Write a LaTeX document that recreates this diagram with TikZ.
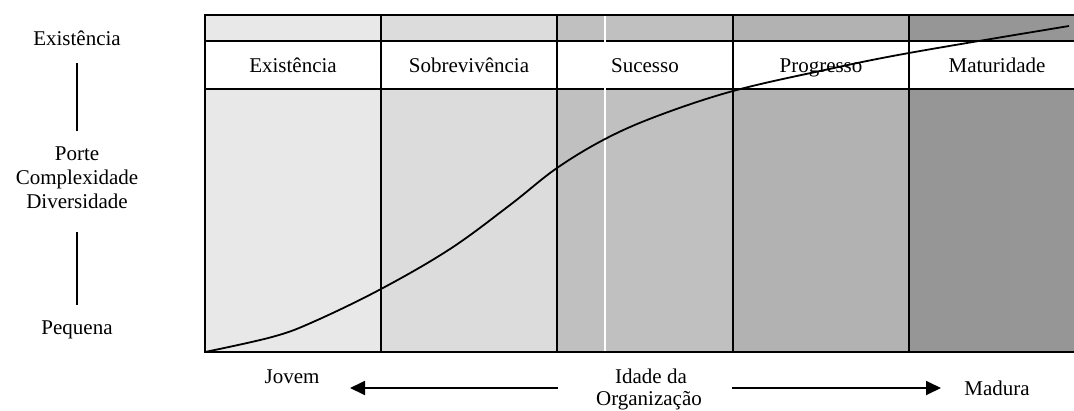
\documentclass[tikz,border=0pt]{standalone}
\usepackage{fontspec}
\setmainfont{Liberation Serif}
\usetikzlibrary{arrows.meta}
\definecolor{stageA}{HTML}{E8E8E8}
\definecolor{stageB}{HTML}{DCDCDC}
\definecolor{stageC}{HTML}{C0C0C0}
\definecolor{stageD}{HTML}{B2B2B2}
\definecolor{stageE}{HTML}{969696}
\tikzset{
  lbl/.style={inner sep=0pt, anchor=base, font=\fontsize{21}{24.5}\selectfont},
  frame/.style={line width=2pt},
  growth/.style={line width=1.8pt, line join=round},
  agearrow/.style={line width=1.8pt, -{Triangle[length=15pt,width=14pt]}},
  scaleline/.style={line width=1.8pt}
}
\begin{document}
\begin{tikzpicture}[x=1pt,y=-1pt]
\useasboundingbox (0,0) rectangle (1074,410);
% stage columns
\fill[stageA] (205,15) rectangle (381,352);
\fill[stageB] (381,15) rectangle (557,352);
\fill[stageC] (557,15) rectangle (733,352);
\fill[stageD] (733,15) rectangle (909,352);
\fill[stageE] (909,15) rectangle (1085,352);
% header band
\fill[white] (205,41) rectangle (1085,89);
% grid
\draw[frame] (205,15) rectangle (1085,352);
\draw[frame] (205,41) -- (1085,41);
\draw[frame] (205,89) -- (1085,89);
\foreach \x in {381,557,733,909} \draw[frame] (\x,15) -- (\x,352);
\draw[white, line width=2pt] (605,16) -- (605,351);
% stage names
\node[lbl] (s1) at (293,72) {Existência};
\node[lbl] (s2) at (469,72) {Sobrevivência};
\node[lbl] (s3) at (645,72) {Sucesso};
\node[lbl] (s4) at (821,72) {Progresso};
\node[lbl] (s5) at (997,72) {Maturidade};
% growth curve
\draw[growth] plot[smooth, tension=0.6] coordinates {
  (205,352) (272,337) (313,322) (381,289) (450,249) (510,205)
  (557,168) (607,138) (660,115) (733,91) (820,71) (909,53) (1069,26)};
% vertical scale
\node[lbl] (top) at (77,45) {Existência};
\node[lbl] (porte) at (77,160) {Porte};
\node[lbl] (compl) at (77,184) {Complexidade};
\node[lbl] (div) at (77,208) {Diversidade};
\node[lbl] (low) at (77,334) {Pequena};
\draw[scaleline, shorten <=18pt, shorten >=15pt] (top.south) -- (porte.north);
\draw[scaleline, shorten <=24pt, shorten >=15pt] (div.south) -- (low.north);
% age axis
\node[lbl] (young) at (292,383) {Jovem};
\node[lbl] (age1) at (651,383) {Idade da};
\node[lbl] (age2) at (649,405) {Organização};
\node[lbl] (old) at (997,395) {Madura};
\coordinate (la) at (558,388);
\coordinate (lb) at (350,388);
\coordinate (ra) at (732,388);
\coordinate (rb) at (941,388);
\draw[agearrow] (la) -- (lb);
\draw[agearrow] (ra) -- (rb);
\end{tikzpicture}
\end{document}
